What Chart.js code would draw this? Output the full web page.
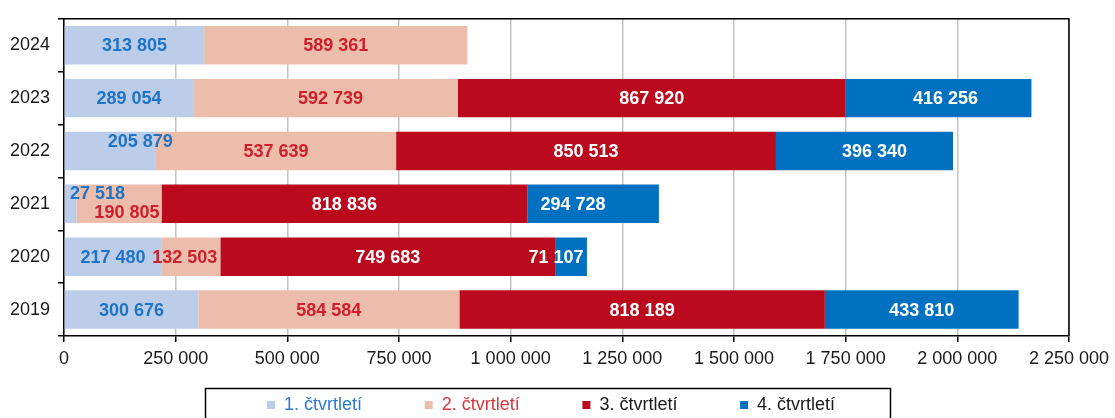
<!DOCTYPE html>
<html>
<head>
<meta charset="utf-8">
<script src="https://cdn.jsdelivr.net/npm/chart.js@4.4.1/dist/chart.umd.min.js"></script>
<style>
html,body{margin:0;padding:0;background:#fff;overflow:hidden}
#wrap{width:1115px;height:418px;position:relative}
</style>
</head>
<body>
<div id="wrap"><canvas id="c" width="1115" height="418"></canvas></div>
<script>
// ---- data ----
const years = ['2024', '2023', '2022', '2021', '2020', '2019'];
const seriesNames = ['1. čtvrtletí', '2. čtvrtletí', '3. čtvrtletí', '4. čtvrtletí'];
const q1 = [313805, 289054, 205879, 27518, 217480, 300676];
const q2 = [589361, 592739, 537639, 190805, 132503, 584584];
const q3 = [null, 867920, 850513, 818836, 749683, 818189];
const q4 = [null, 416256, 396340, 294728, 71107, 433810];
const xTickValues = [0, 250000, 500000, 750000, 1000000, 1250000, 1500000, 1750000, 2000000, 2250000];

// ---- styles ----
const FONT = "'Liberation Sans', Arial, sans-serif";
const barColors = ['#bccde9', '#ecbdab', '#bb0a1e', '#0070c0'];
const valueColors = ['#1f74c6', '#cf1f2d', '#ffffff', '#ffffff'];
const legendTextColors = ['#2b7bd0', '#d9363e', '#1a1a1a', '#1a1a1a'];
// label shifts (px) for crowded labels, keyed "dataset-index"
const labelShift = {
  '1-1': [5, 0], '0-2': [30, -10], '0-3': [27, -11], '1-3': [8, 8],
  '1-4': [-6, 0], '3-4': [-15, 0], '3-3': [-20, 0], '3-2': [10, 0], '3-1': [7, 0]
};

function fmt(n) { return String(n).replace(/\B(?=(\d{3})+(?!\d))/g, ' '); }

Chart.defaults.font.family = FONT;
Chart.defaults.color = '#1a1a1a';

const valueLabels = {
  id: 'valueLabels',
  afterDatasetsDraw(chart) {
    const ctx = chart.ctx;
    ctx.save();
    ctx.font = "bold 18px " + FONT;
    ctx.textAlign = 'center';
    ctx.textBaseline = 'middle';
    chart.data.datasets.forEach((ds, di) => {
      const meta = chart.getDatasetMeta(di);
      meta.data.forEach((el, i) => {
        const v = ds.data[i];
        if (v === null || v === undefined) return;
        const p = el.getProps(['x', 'y', 'base'], true);
        const sh = labelShift[di + '-' + i] || [0, 0];
        ctx.fillStyle = valueColors[di];
        ctx.fillText(fmt(v), (p.x + p.base) / 2 + sh[0], p.y + sh[1] + 1);
      });
    });
    ctx.restore();
  }
};

const frame = {
  id: 'frame',
  afterDraw(chart) {
    const a = chart.chartArea, ctx = chart.ctx;
    ctx.save();
    ctx.strokeStyle = '#000';
    ctx.lineWidth = 1.5;
    ctx.beginPath();
    ctx.moveTo(a.left, a.top);
    ctx.lineTo(a.right, a.top);
    ctx.lineTo(a.right, a.bottom);
    ctx.stroke();
    // legend
    ctx.lineWidth = 1.5;
    ctx.strokeRect(205.5, 388.5, 685, 60);
    ctx.font = "18px " + FONT;
    ctx.textAlign = 'left';
    ctx.textBaseline = 'middle';
    const startX = 267, step = 157.7, cy = 405;
    chart.data.datasets.forEach((ds, i) => {
      const x = startX + i * step;
      ctx.fillStyle = ds.backgroundColor;
      ctx.fillRect(x, cy - 4, 8, 8);
      ctx.fillStyle = legendTextColors[i];
      ctx.fillText(ds.label, x + 17, cy);
    });
    ctx.restore();
  }
};

const datasets = [q1, q2, q3, q4].map((d, i) => ({
  label: seriesNames[i],
  data: d,
  backgroundColor: barColors[i],
  borderWidth: 0,
  barPercentage: 0.727,
  categoryPercentage: 1
}));

new Chart(document.getElementById('c'), {
  type: 'bar',
  data: { labels: years, datasets },
  options: {
    indexAxis: 'y',
    responsive: false,
    animation: false,
    layout: { padding: { left: 0, right: 43, top: 10, bottom: 52 } },
    plugins: { legend: { display: false }, tooltip: { enabled: false } },
    scales: {
      x: {
        stacked: true,
        min: 0, max: 2250000,
        afterBuildTicks(scale) { scale.ticks = xTickValues.map(v => ({ value: v })); },
        afterFit(scale) { scale.height = 30; },
        ticks: { font: { size: 18 }, color: '#1a1a1a', padding: 6, maxRotation: 0, autoSkip: false,
          callback: v => fmt(v) },
        grid: { color: '#c4c4c4', lineWidth: 1.5, tickColor: '#000', tickLength: 6, tickWidth: 1.5 },
        border: { color: '#000', width: 1.5 }
      },
      y: {
        stacked: true,
        offset: true,
        afterFit(scale) { scale.width = 64; },
        ticks: { font: { size: 18 }, color: '#1a1a1a', padding: 8 },
        grid: { offset: true, drawOnChartArea: false, color: '#000', tickLength: 6, lineWidth: 1.5 },
        border: { color: '#000', width: 1.5 }
      }
    }
  },
  plugins: [valueLabels, frame]
});
</script>
</body>
</html>
